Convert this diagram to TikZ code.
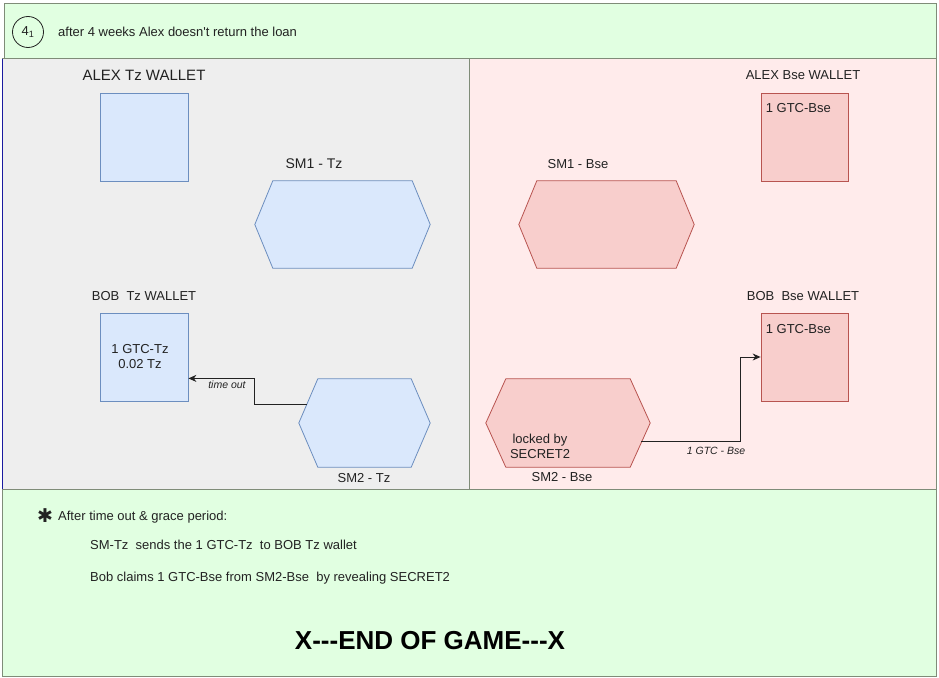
\documentclass[tikz,border=0pt]{standalone}
\usepackage{fontspec}
\setmainfont{Liberation Sans}
\newfontfamily\symfont{DejaVu Sans}
\usetikzlibrary{calc,arrows.meta}

\definecolor{greenfill}{HTML}{E1FFE1}
\definecolor{frameline}{HTML}{7F8C78}
\definecolor{leftfill}{HTML}{EEEEEE}
\definecolor{rightfill}{HTML}{FFEBEB}
\definecolor{bluefill}{HTML}{DAE8FC}
\definecolor{blueline}{HTML}{6C8EBF}
\definecolor{redfill}{HTML}{F8CECC}
\definecolor{redline}{HTML}{B85450}
\definecolor{edgeblue}{HTML}{1A1AA0}
\definecolor{ink}{HTML}{222222}

% hexagon outline drawn around a placeholder node
\newcommand\hexoutline[3]{%
  \draw[#3] (#1.west) -- ($(#1.north west)+(#2,0)$) -- ($(#1.north east)-(#2,0)$)
    -- (#1.east) -- ($(#1.south east)-(#2,0)$) -- ($(#1.south west)+(#2,0)$) -- cycle;}

\tikzset{
  panel/.style={draw=frameline, line width=1pt},
  label/.style={inner sep=0pt, text=ink, font=\fontsize{13}{15}\selectfont},
  biglabel/.style={inner sep=0pt, text=ink, font=\fontsize{15}{17}\selectfont},
  small/.style={inner sep=0pt, text=ink, font=\fontsize{10.5}{12}\itshape},
  bluebox/.style={draw=blueline, fill=bluefill, line width=0.8pt, minimum width=88pt, minimum height=88pt, inner sep=0pt},
  redbox/.style={draw=redline, fill=redfill, line width=0.8pt, minimum width=87pt, minimum height=88pt, inner sep=0pt},
  hexbox/.style={rectangle, inner sep=0pt},
  bluehex/.style={draw=blueline, fill=bluefill, line width=0.8pt},
  redhex/.style={draw=redline, fill=redfill, line width=0.8pt},
  conn/.style={draw=ink, line width=1pt, -{Stealth[length=8pt,width=7pt]}},
}

\begin{document}
\begin{tikzpicture}[x=1pt,y=-1pt]
\useasboundingbox (0,0) rectangle (939,677);
\fill[white] (0,0) rectangle (939,677);

% background panels
\path[panel, fill=greenfill] (4,4) rectangle (936,59);
\path[panel, fill=leftfill] (2,59) rectangle (469,489);
\path[panel, fill=rightfill] (469,59) rectangle (936,489);
\path[panel, fill=greenfill] (2,489) rectangle (936,676);
\draw[edgeblue, line width=1pt] (2,59) -- (2,489);

% step header
\node[draw=ink, circle, line width=0.8pt, minimum size=31pt, inner sep=0pt, label] (step) at (28,32) {4\textsubscript{1}};
\node[label, anchor=west] (stepText) at (58,32) {after 4 weeks Alex doesn\textquotesingle t return the loan};

% Tezos side
\node[biglabel] (alexTzTitle) at (144,75) {ALEX Tz WALLET};
\node[bluebox] (alexTz) at (144,137) {};

\node[hexbox, minimum width=175pt, minimum height=87pt] (sm1tz) at (342.5,224.5) {};
\hexoutline{sm1tz}{18}{bluehex}
\node[label, font=\fontsize{14}{16}\selectfont] (sm1tzTitle) at (314,164) {SM1 - Tz};

\node[label] (bobTzTitle) at (144,296) {BOB\ \ Tz WALLET};
\node[bluebox] (bobTz) at (144,357) {};
\node[label, align=center] (bobTzText) at (140,357) {1 GTC-Tz\\0.02 Tz};

\node[hexbox, minimum width=131pt, minimum height=88pt] (sm2tz) at (364.5,423) {};
\hexoutline{sm2tz}{19}{bluehex}
\node[label] (sm2tzTitle) at (364,478) {SM2 - Tz};

\coordinate (tzOut) at ($(sm2tz.west)+(8,-19)$);
\draw[conn] (tzOut) -- ++(-52,0) |- ($(bobTz.south east)+(0,-23)$);
\node[small] (timeout) at (227,385) {time out};

% Base side
\node[label] (alexBseTitle) at (803,75) {ALEX Bse WALLET};
\node[redbox] (alexBse) at (804.5,137) {};
\node[label, anchor=north west] (alexBseText) at ($(alexBse.north west)+(5,11)$) {1 GTC-Bse};

\node[hexbox, minimum width=175pt, minimum height=87pt] (sm1bse) at (606.5,224.5) {};
\hexoutline{sm1bse}{18}{redhex}
\node[label] (sm1bseTitle) at (578,164) {SM1 - Bse};

\node[label] (bobBseTitle) at (803,296) {BOB\ \ Bse WALLET};
\node[redbox] (bobBse) at (804.5,357) {};
\node[label, anchor=north west] (bobBseText) at ($(bobBse.north west)+(5,12)$) {1 GTC-Bse};

\node[hexbox, minimum width=164pt, minimum height=88pt] (sm2bse) at (568,423) {};
\hexoutline{sm2bse}{20}{redhex}
\node[label, align=center] (lockText) at (540,446) {locked by\\SECRET2};
\node[label] (sm2bseTitle) at (562,477) {SM2 - Bse};

\coordinate (bseOut) at ($(sm2bse.east)+(-9,18)$);
\draw[conn] (bseOut) -- ++(99,0) |- (bobBse.west);
\node[small] (gtcBse) at (716,451) {1 GTC - Bse};

% notes
\node[inner sep=0pt, text=ink, font=\symfont\fontsize{19}{19}\selectfont] (star) at (45,516) {✱};
\node[label, anchor=west] (note1) at (58,517) {After time out \& grace period:};
\node[label, anchor=west] (note2) at (90,545) {SM-Tz\ \ sends the 1 GTC-Tz\ \ to BOB Tz wallet};
\node[label, anchor=west] (note3) at (90,578) {Bob claims 1 GTC-Bse from SM2-Bse\ \ by revealing SECRET2};

\node[inner sep=0pt, text=black, font=\fontsize{26}{30}\bfseries\selectfont] (endText) at (430,641) {X{-}{-}{-}END OF GAME{-}{-}{-}X};
\end{tikzpicture}
\end{document}
